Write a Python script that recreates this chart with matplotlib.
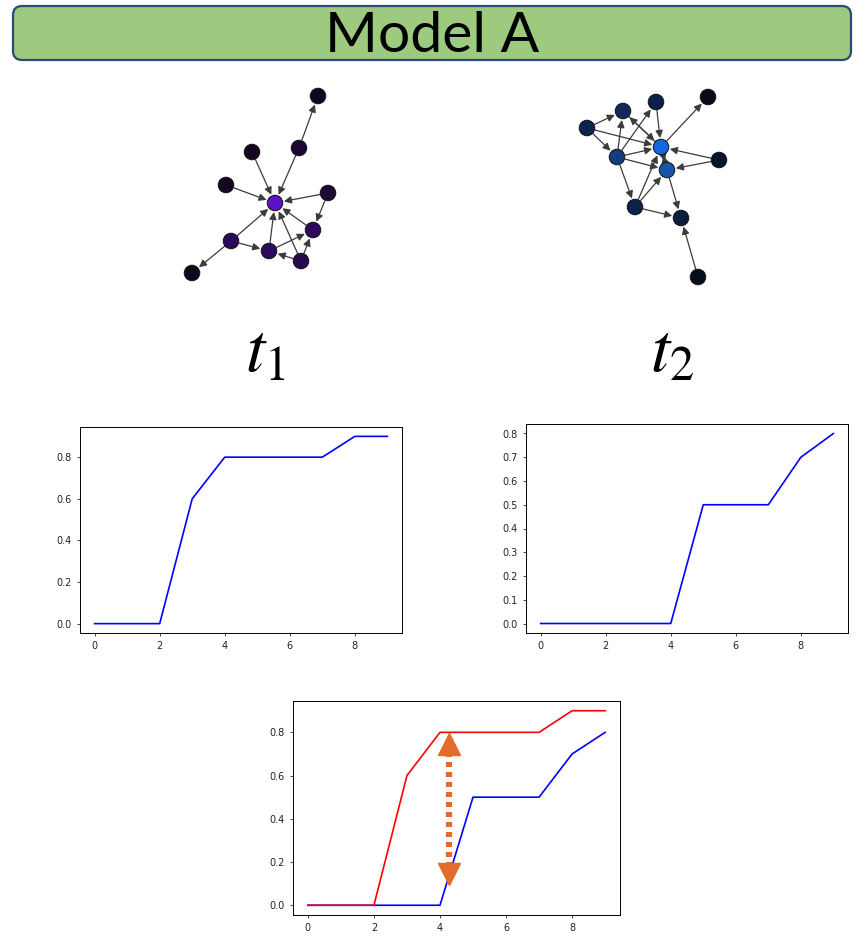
import numpy as np
import matplotlib
matplotlib.use("Agg")
import matplotlib.pyplot as plt
from matplotlib.patches import FancyBboxPatch

plt.rcParams['mathtext.fontset'] = 'stix'

# network at t1 (pixel layout) and its edges
g1_x = [318, 299, 252, 226, 275, 328, 313, 231, 269, 301, 192]
g1_y = [96, 148, 152, 185, 203, 193, 230, 241, 251, 261, 273]
g1_col = ['#14041e', '#1c0732', '#16051f', '#17061f', '#5b12c9', '#1e0838',
          '#2b0b5c', '#2a0a58', '#2d0b60', '#260a50', '#12041a']
g1_edges = [(1, 0), (2, 4), (1, 4), (3, 4), (5, 4), (5, 6), (7, 4), (7, 10), (7, 8),
            (8, 4), (8, 6), (9, 8), (9, 6), (9, 4), (6, 4)]

# network at t2
g2_x = [587, 623, 656, 708, 617, 661, 667, 719, 635, 681, 698]
g2_y = [128, 111, 102, 97, 157, 147, 170, 160, 207, 218, 277]
g2_col = ['#0c2550', '#0f2a58', '#0b2048', '#050c18', '#123d80', '#1466e0',
          '#1854a8', '#081428', '#0c2248', '#0a1e42', '#060e1c']
g2_edges = [(0, 1), (0, 4), (0, 5), (4, 1), (1, 5), (5, 1), (2, 5), (4, 2), (5, 3),
            (4, 5), (4, 6), (7, 5), (7, 6), (4, 8), (8, 6), (8, 5), (8, 9), (6, 9),
            (10, 9), (5, 6), (6, 5)]

steps = np.arange(10)
curve_t1 = [0.0, 0.0, 0.0, 0.6, 0.8, 0.8, 0.8, 0.8, 0.9, 0.9]
curve_t2 = [0.0, 0.0, 0.0, 0.0, 0.0, 0.5, 0.5, 0.5, 0.7, 0.8]

W, H = 868, 946
fig = plt.figure(figsize=(W / 100, H / 100), dpi=100)

# background canvas in pixel coordinates
bg = fig.add_axes([0, 0, 1, 1])
bg.set_xlim(0, W)
bg.set_ylim(H, 0)
bg.axis('off')

banner = FancyBboxPatch((13, 6), 838, 54, boxstyle="round,pad=0,rounding_size=9",
                        facecolor='#9dca7e', edgecolor='#2e4a7a', lw=1.6)
bg.add_patch(banner)
bg.text(432, 36, 'Model A', ha='center', va='center', fontsize=41, family='Lato', color='black')


def draw_graph(xs, ys, cols, edges):
    for a, b in edges:
        bg.annotate('', xy=(xs[b], ys[b]), xytext=(xs[a], ys[a]),
                    arrowprops=dict(arrowstyle='-|>', color='#3c3c3c', lw=0.9,
                                    shrinkA=6, shrinkB=6.5, mutation_scale=11))
    bg.scatter(xs, ys, s=125, c=cols, edgecolors='#111111', linewidths=0.7, zorder=3)


draw_graph(g1_x, g1_y, g1_col, g1_edges)
draw_graph(g2_x, g2_y, g2_col, g2_edges)

bg.text(265, 352, '$t_1$', ha='center', va='center', fontsize=50)
bg.text(672, 352, '$t_2$', ha='center', va='center', fontsize=50)


def style(ax):
    ax.tick_params(labelsize=7, length=2.5, width=0.6, colors='#222222')
    for s in ax.spines.values():
        s.set_linewidth(0.7)


ax1 = fig.add_axes([80 / W, 1 - 633 / H, 322 / W, 206 / H])
ax1.plot(steps, curve_t1, color='blue', lw=1.2)
style(ax1)

ax2 = fig.add_axes([526 / W, 1 - 633 / H, 322 / W, 209 / H])
ax2.plot(steps, curve_t2, color='blue', lw=1.2)
style(ax2)

ax3 = fig.add_axes([293 / W, 1 - 915 / H, 327 / W, 214 / H])
ax3.plot(steps, curve_t2, color='blue', lw=1.2)
ax3.plot(steps, curve_t1, color='red', lw=1.2)
ax3.plot([4.27, 4.27], [0.71, 0.18], color='#e46c2a', lw=4.5, ls=(0, (0.8, 0.8)))
ax3.plot([4.27], [0.745], marker='^', color='#e46c2a', ms=16)
ax3.plot([4.27], [0.145], marker='v', color='#e46c2a', ms=16)
style(ax3)

fig.savefig('out.png', dpi=100)
